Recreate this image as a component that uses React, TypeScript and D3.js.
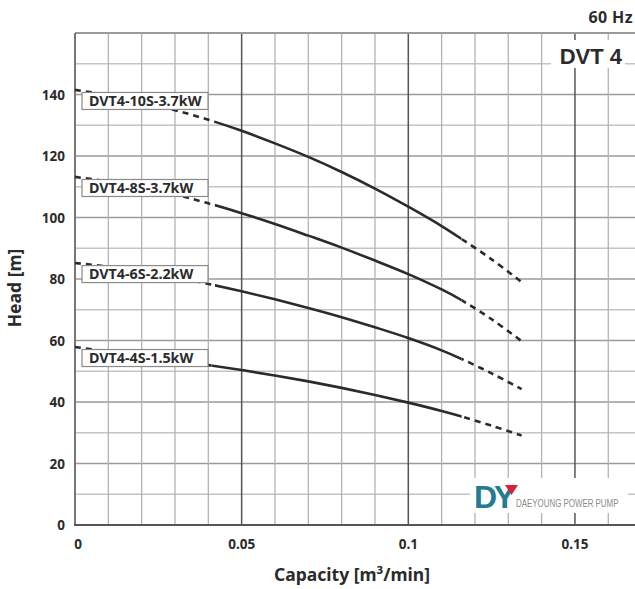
import React from "react";
import * as d3 from "d3";

// ---- data ----
const seriesNames = ["DVT4-10S-3.7kW", "DVT4-8S-3.7kW", "DVT4-6S-2.2kW", "DVT4-4S-1.5kW"];
const capacity = [0, 0.01, 0.02, 0.03, 0.04, 0.05, 0.06, 0.07, 0.08, 0.09, 0.1, 0.11, 0.116, 0.125, 0.134];
const head10S = [141.5, 139.8, 137.6, 134.9, 131.8, 128.2, 124.1, 119.7, 114.8, 109.4, 103.5, 97.2, 93.0, 86.4, 79.0];
const head8S = [113.2, 111.7, 109.8, 107.5, 104.6, 101.4, 97.9, 94.1, 90.2, 86.0, 81.6, 76.6, 73.1, 66.9, 59.8];
const head6S = [85.2, 84.0, 82.5, 80.6, 78.4, 76.0, 73.4, 70.6, 67.6, 64.3, 60.8, 56.8, 54.0, 49.3, 44.2];
const head4S = [57.9, 56.4, 55.0, 53.5, 52.0, 50.4, 48.6, 46.7, 44.6, 42.3, 39.8, 37.1, 35.3, 32.3, 29.1];
const solidStart = [0.042, 0.042, 0.042, 0.041];
const solidEnd = [0.116, 0.116, 0.116, 0.116];
const xTickValues = [0, 0.05, 0.1, 0.15];
const xTickLabels = ["0", "0.05", "0.1", "0.15"];
const yTickValues = [0, 20, 40, 60, 80, 100, 120, 140];
const heads = [head10S, head8S, head6S, head4S];

const W = 635;
const H = 589;
const FONT = "'Noto Sans', 'Open Sans', sans-serif";

export default function App() {
  const x = d3.scaleLinear().domain([0, 0.17]).range([75, 75 + 0.17 * 3333]);
  const y = d3.scaleLinear().domain([0, 160]).range([525, 33]);
  const left = x(0);
  const right = W + 5;
  const top = y(160);
  const bottom = y(0);

  const minorX = d3.range(1, 17).map((i) => i / 100);
  const gridY = d3.range(10, 160, 10);

  const line = d3
    .line<[number, number]>()
    .x((d) => x(d[0]))
    .y((d) => y(d[1]))
    .curve(d3.curveCatmullRom.alpha(0.5));

  return (
    <svg
      width={W}
      height={H}
      style={{ position: "absolute", left: 0, top: 0, background: "#fff" }}
      fontFamily={FONT}
    >
      <defs>
        {heads.map((_, i) => (
          <g key={i}>
            <clipPath id={`cl-a-${i}`}>
              <rect x={0} y={0} width={x(solidStart[i])} height={H} />
            </clipPath>
            <clipPath id={`cl-b-${i}`}>
              <rect x={x(solidStart[i])} y={0} width={x(solidEnd[i]) - x(solidStart[i])} height={H} />
            </clipPath>
            <clipPath id={`cl-c-${i}`}>
              <rect x={x(solidEnd[i])} y={0} width={W - x(solidEnd[i])} height={H} />
            </clipPath>
          </g>
        ))}
      </defs>

      {/* horizontal grid */}
      {gridY.map((v) => (
        <line
          key={`h${v}`}
          x1={left}
          x2={right}
          y1={y(v)}
          y2={y(v)}
          stroke={v % 20 === 0 ? "#9a9a9a" : "#c4c4c4"}
          strokeWidth={v % 20 === 0 ? 1.6 : 1.3}
        />
      ))}
      {/* vertical grid */}
      {minorX.map((v, i) => {
        const major = (i + 1) % 5 === 0;
        return (
          <line
            key={`v${i}`}
            x1={x(v)}
            x2={x(v)}
            y1={top}
            y2={bottom}
            stroke={major ? "#555" : "#b3b3b3"}
            strokeWidth={major ? 1.5 : 1.3}
          />
        );
      })}
      {/* borders */}
      <line x1={left} x2={right} y1={top} y2={top} stroke="#9a9a9a" strokeWidth={2} />
      <line x1={left} x2={left} y1={top} y2={bottom + 1} stroke="#777" strokeWidth={2} />
      <line x1={left - 1} x2={right} y1={bottom} y2={bottom} stroke="#555" strokeWidth={2} />

      {/* model title */}
      <rect x={551} y={40} width={74} height={28} fill="#fff" />
      <text x={622} y={64} textAnchor="end" fontSize={22} fontWeight={700} fill="#2b2b2b" fontFamily="'Liberation Sans', Arial, sans-serif">
        DVT 4
      </text>
      <text x={633} y={23} textAnchor="end" fontSize={16} fontWeight={700} fill="#2b2b2b" letterSpacing={0.4}>
        60 Hz
      </text>

      {/* logo */}
      <rect x={470} y={478} width={158} height={35} fill="#fff" />
      <text x={474} y={508} fontSize={32} fontWeight={700} fill="#237c93" fontFamily="'Liberation Sans', Arial, sans-serif" letterSpacing={-3}>
        DY
      </text>
      <polygon points="505,485 518,485 511.5,495" fill="#d6223a" />
      <text
        transform="translate(516,507) scale(0.72,1)"
        fontSize={11}
        fill="#8a8a8a"
        fontFamily="'Liberation Sans', Arial, sans-serif"
      >
        DAEYOUNG POWER PUMP
      </text>

      {/* curves */}
      {heads.map((hs, i) => {
        const pts: [number, number][] = capacity.map((c, k) => [c, hs[k]]);
        const d = line(pts) || "";
        return (
          <g key={`c${i}`} fill="none" stroke="#2b2b2b" strokeWidth={2.6}>
            <path d={d} clipPath={`url(#cl-a-${i})`} strokeDasharray="6,5" />
            <path d={d} clipPath={`url(#cl-b-${i})`} />
            <path d={d} clipPath={`url(#cl-c-${i})`} strokeDasharray="6,5" />
          </g>
        );
      })}

      {/* series labels */}
      {heads.map((hs, i) => {
        const cy = y(hs[0] - 3.6);
        return (
          <g key={`l${i}`}>
            <rect x={82} y={cy - 8.5} width={126} height={17} fill="#fff" stroke="#8a8a8a" strokeWidth={1.2} />
            <text x={89} y={cy + 5} fontSize={14.3} fontWeight={700} fill="#2b2b2b">
              {seriesNames[i]}
            </text>
          </g>
        );
      })}

      {/* y ticks */}
      {yTickValues.map((v) => (
        <text key={`yt${v}`} x={65} y={y(v) + 5} textAnchor="end" fontSize={13.5} fontWeight={700} fill="#2b2b2b">
          {v}
        </text>
      ))}
      {/* x ticks */}
      {xTickValues.map((v, i) => (
        <text key={`xt${v}`} x={x(v) + (i === 0 ? 3 : 0)} y={549} textAnchor="middle" fontSize={13.5} fontWeight={700} fill="#2b2b2b">
          {xTickLabels[i]}
        </text>
      ))}

      {/* axis titles */}
      <text
        transform={`translate(21,${288}) rotate(-90)`}
        textAnchor="middle"
        fontSize={17.5}
        fontWeight={700}
        fill="#2b2b2b"
      >
        Head [m]
      </text>
      <text x={352} y={581} textAnchor="middle" fontSize={17.5} fontWeight={700} fill="#2b2b2b">
        Capacity [m³/min]
      </text>
    </svg>
  );
}
